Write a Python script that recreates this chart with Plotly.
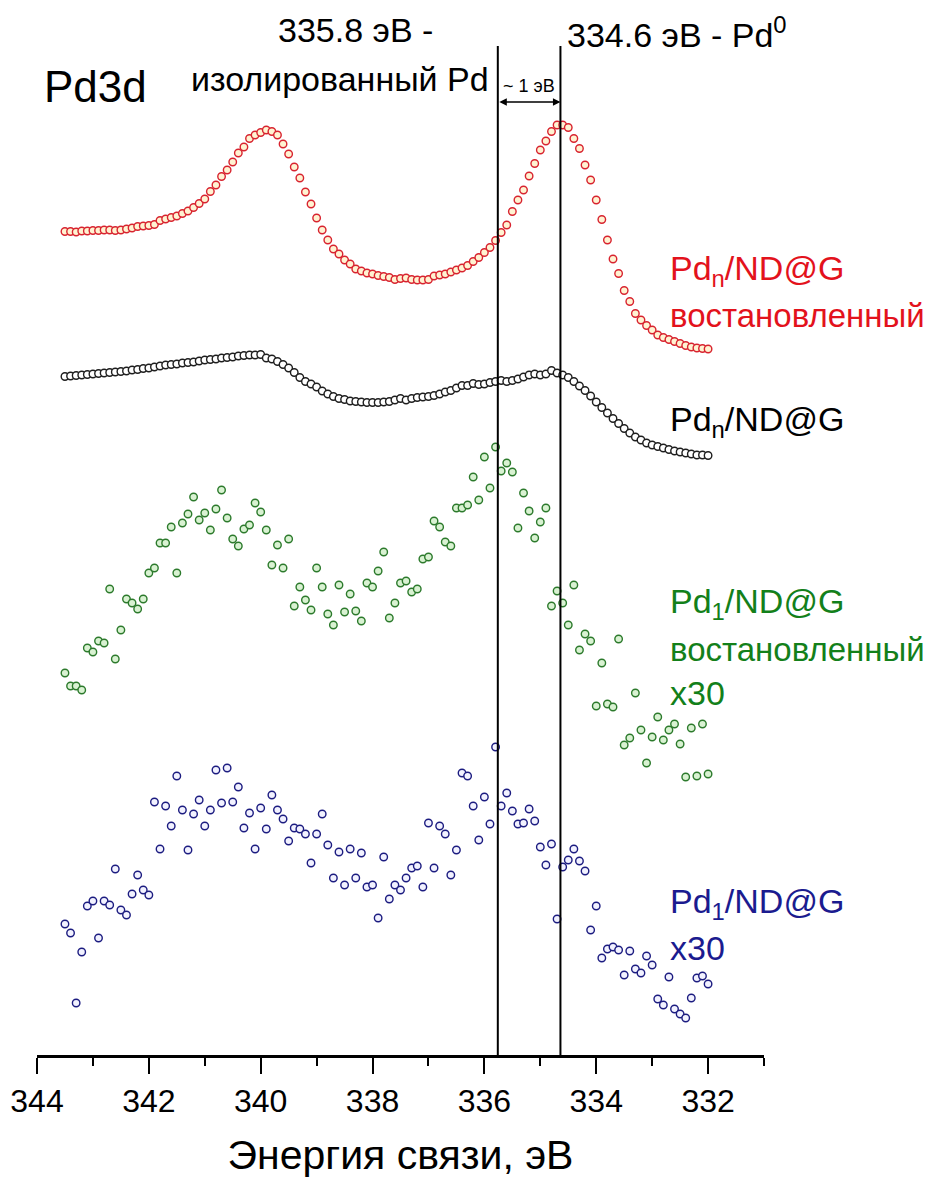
import numpy as np
import plotly.graph_objects as go

# Binding energy grid (eV), 0.1 eV step from 343.5 down to 332.0
energy = np.round(np.arange(343.5, 331.95, -0.1), 2)

# Intensities (arbitrary units, vertically offset traces)
pdn_reduced = [823.5, 823.5, 823, 824, 824, 824.5, 824.5, 825, 825, 824.5,
               825, 826, 827, 828.5, 829, 829.5, 830.5, 834.5, 836, 837.5,
               839, 841.5, 844, 847.5, 851.5, 856, 863.5, 870, 878.5, 885,
               893, 902, 908, 916.5, 920, 922.5, 925, 923.5, 920, 911,
               901, 888, 877, 863, 851, 837, 825, 815, 806, 801,
               795, 791, 786, 784, 782, 781, 779.5, 778.5, 777.5, 775.5,
               776.5, 777, 775.5, 775, 775, 775.5, 779, 780, 781, 783,
               785, 787, 789.5, 793.5, 797.5, 802.5, 807.5, 814.5, 822.5, 830,
               843.5, 855, 865, 879, 891.5, 905, 914, 923.5, 930, 930,
               927.5, 916.5, 906.5, 890, 875, 855, 835.5, 815, 796, 781.5,
               764.5, 753.5, 741.5, 735, 729.5, 725, 720, 717.5, 715.5, 713.5,
               711.5, 709.5, 708, 707, 706.5, 706]

pdn = [678.5, 679, 679.5, 680, 680.5, 681, 681.5, 682, 682.5, 683,
       683.5, 684, 685, 685.5, 686.5, 687, 688, 689, 690, 690.5,
       691, 692, 692.5, 693, 694, 695, 695.5, 696, 697, 697.5,
       698, 699, 699.5, 700, 700, 700.5, 697, 696, 693.5, 690.5,
       687, 682.5, 677.5, 673.5, 671, 668, 664, 661, 658.5, 656.5,
       655.5, 654, 653.5, 653, 652.5, 652.5, 652.5, 653, 653.5, 655,
       656.5, 655, 656.5, 657.5, 658, 658.5, 659.5, 661, 663, 664.5,
       667, 669.5, 669.5, 671.5, 670.5, 671, 672.5, 673.5, 674.5, 673.5,
       674.5, 676, 678, 680, 681, 680, 681, 684.5, 682, 680,
       677.5, 673.5, 669, 664.5, 659, 653, 647.5, 642, 636.5, 631.5,
       626.5, 622, 618, 615, 612, 610, 608.5, 607, 605.5, 604,
       603, 602, 601, 600, 600, 599.5]

pd1_reduced_x30 = [382, 369, 369, 365, 407, 403, 414, 412, 466, 396,
                   425, 456, 452, 446, 456, 482, 487, 512, 512, 528,
                   482, 532, 541, 558, 535, 542, 525, 546, 565, 537,
                   516, 509, 526, 530, 552, 543, 525, 490, 510, 487,
                   516, 449, 468, 455, 445, 487, 468, 441, 430, 470,
                   443, 461, 444, 434, 472, 468, 484, 503, 437, 452,
                   472, 474, 463, 466, 496, 498, 534, 528, 513, 509,
                   547, 547, 550, 578, 555, 598, 567, 608, 584, 592,
                   583, 527, 562, 544, 517, 533, 547, 449, 464, 452,
                   430, 470, 405, 421, 414, 349, 392, 351, 348, 416,
                   310, 317, 362, 325, 292, 318, 338, 315, 325, 331,
                   311, 278, 327, 279, 331, 281]

pd1_x30 = [131, 122, 52, 103, 149, 154, 117, 154, 150, 186,
           145, 140, 161, 180, 165, 160, 253, 206, 249, 229,
           279, 245, 205, 241, 255, 229, 245, 285, 252, 287,
           253, 268, 227, 242, 206, 247, 226, 260, 245, 236,
           214, 227, 226, 221, 192, 221, 241, 210, 177, 203,
           170, 206, 177, 202, 168, 170, 137, 198, 156, 170,
           165, 177, 187, 189, 168, 232, 187, 229, 221, 180,
           205, 282, 279, 249, 215, 258, 231, 308, 249, 262,
           244, 231, 232, 246, 234, 208, 190, 211, 136, 188,
           195, 206, 194, 184, 125, 149, 97, 106, 108, 105,
           80, 104, 86, 82, 99, 90, 56, 50, 78, 46,
           41, 37, 57, 77, 79, 71]

ref_lines = [335.76, 334.64]
x_ticks = [344, 342, 340, 338, 336, 334, 332]

FONT = "Liberation Sans, Arial, sans-serif"
RED = "#e3121c"
GREEN = "#13801a"
BLUE = "#1b1b8f"

series = [
    (pdn_reduced, "#d8232f", "#fff3d2"),
    (pdn, "#1e1e1e", "#ffffff"),
    (pd1_reduced_x30, "#2c7a2c", "#d9f2d2"),
    (pd1_x30, "#1c1c80", "#f2f2ff"),
]

fig = go.Figure()
for vals, lc, fc in series:
    fig.add_trace(go.Scatter(
        x=energy, y=vals, mode="markers",
        marker=dict(symbol="circle", size=7.5, color=fc,
                    line=dict(color=lc, width=1.4)),
        showlegend=False, cliponaxis=False))

for xv in ref_lines:
    fig.add_shape(type="line", xref="x", yref="paper", x0=xv, x1=xv,
                  y0=0, y1=1, line=dict(color="black", width=2))

fig.add_annotation(x=ref_lines[1], y=953, ax=ref_lines[0], ay=953,
                   xref="x", yref="y", axref="x", ayref="y", text="",
                   showarrow=True, arrowhead=2, arrowside="end+start",
                   arrowsize=1, arrowwidth=1.5, arrowcolor="black")

def label(text, x, y, size, color="black", xanchor="left", yref="y"):
    fig.add_annotation(x=x, y=y, xref="x", yref=yref, text=text,
                       showarrow=False, xanchor=xanchor, yanchor="middle",
                       font=dict(family=FONT, size=size, color=color))

label("Pd3d", 342.96, 969, 44, xanchor="center")
label("335.8 эВ -", 338.3, 1.0159, 34, xanchor="center", yref="paper")
label("изолированный Pd", 335.88, 976, 34, xanchor="right")
label("334.6 эВ - Pd<sup>0</sup>", 334.55, 1.013, 34, yref="paper")
label("~ 1 эВ", 335.2, 969, 18, xanchor="center")

label("Pd<sub>n</sub>/ND@G", 332.71, 785, 34, RED)
label("востановленный", 332.71, 740, 33, RED)
label("Pd<sub>n</sub>/ND@G", 332.71, 634, 34)
label("Pd<sub>1</sub>/ND@G", 332.71, 452, 34, GREEN)
label("востановленный", 332.71, 406, 33, GREEN)
label("x30", 332.71, 362, 34, GREEN)
label("Pd<sub>1</sub>/ND@G", 332.71, 152, 34, BLUE)
label("x30", 332.71, 107, 34, BLUE)

# page body has an 8px margin: figure spans page x 8..931, y 8..1178
fig.update_layout(
    width=923, height=1170,
    margin=dict(l=29, r=167, t=38, b=123),
    paper_bgcolor="white", plot_bgcolor="white",
    font=dict(family=FONT, color="black"),
    xaxis=dict(
        range=[344, 331], showgrid=False, zeroline=False,
        showline=True, linecolor="black", linewidth=2.5,
        ticks="outside", ticklen=16, tickwidth=2, tickcolor="black",
        tickvals=x_ticks, ticktext=[str(v) for v in x_ticks],
        tickfont=dict(size=32, family=FONT),
        minor=dict(dtick=1, tick0=331, ticks="outside", ticklen=8,
                   tickwidth=2, tickcolor="black"),
        title=dict(text="Энергия связи, эВ", standoff=24,
                   font=dict(size=41, family=FONT)),
        automargin=False,
    ),
    yaxis=dict(range=[0, 1009], visible=False, showgrid=False,
               zeroline=False),
)

fig.write_html("out.html")
